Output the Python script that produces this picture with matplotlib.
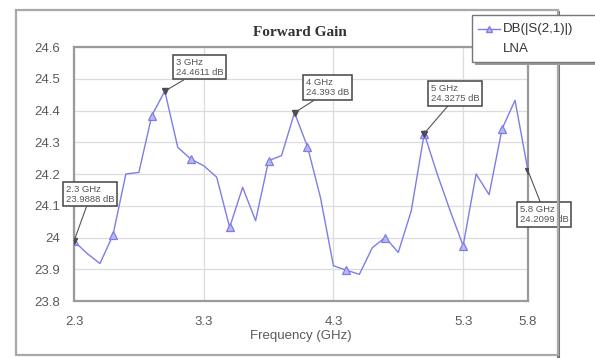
import matplotlib
matplotlib.use("Agg")
import matplotlib.pyplot as plt
from matplotlib.patches import Rectangle
from matplotlib.lines import Line2D

# Frequency sweep (GHz) and LNA forward gain |S21| in dB
freq = [2.3, 2.4, 2.5, 2.6, 2.7, 2.8, 2.9, 3.0, 3.1, 3.2, 3.3, 3.4,
        3.5, 3.6, 3.7, 3.8, 3.9, 4.0, 4.1, 4.2, 4.3, 4.4, 4.5, 4.6,
        4.7, 4.8, 4.9, 5.0, 5.1, 5.2, 5.3, 5.4, 5.5, 5.6, 5.7, 5.8]
gain = [23.9888, 23.95, 23.918, 24.007, 24.20, 24.205, 24.384, 24.4611, 24.284, 24.247, 24.226, 24.19,
        24.032, 24.158, 24.053, 24.242, 24.258, 24.393, 24.286, 24.126, 23.911, 23.897, 23.884, 23.968,
        24.0, 23.953, 24.084, 24.3275, 24.20, 24.084, 23.974, 24.20, 24.135, 24.342, 24.432, 24.2099]

x_ticks = [2.3, 3.3, 4.3, 5.3, 5.8]
y_ticks = [23.8, 23.9, 24.0, 24.1, 24.2, 24.3, 24.4, 24.5, 24.6]
y_tick_labels = ["23.8", "23.9", "24", "24.1", "24.2", "24.3", "24.4", "24.5", "24.6"]

# Marker readouts: frequency index, label text
marker_idx = [0, 7, 17, 27, 35]
marker_text = ["2.3 GHz\n23.9888 dB", "3 GHz\n24.4611 dB", "4 GHz\n24.393 dB",
               "5 GHz\n24.3275 dB", "5.8 GHz\n24.2099 dB"]

series_name = "DB(|S(2,1)|)"
series_source = "LNA"
title = "Forward Gain"
xlabel = "Frequency (GHz)"

W, H = 595, 358
LINE_COLOR = "#7d7de8"
TEXT_GRAY = "#5a5a5a"

plt.rcParams["font.family"] = ["Liberation Sans", "DejaVu Sans"]

fig = plt.figure(figsize=(W / 100, H / 100), dpi=100)
ax = fig.add_axes([74 / W, 1 - 301 / H, (528 - 74) / W, (301 - 47) / H])


def fx(px):
    return px / W


def fy(py):
    return 1 - py / H


# Outer chart frame
fig.patches.append(Rectangle((fx(16), fy(355)), (558 - 16) / W, (355 - 10) / H,
                             transform=fig.transFigure, fill=False,
                             edgecolor="#a8a8a8", linewidth=1.6, zorder=0))
fig.lines.append(Line2D([fx(558), fx(558)], [0, fy(12)], transform=fig.transFigure,
                        color="#707070", linewidth=2.2, zorder=0))

ax.plot(freq, gain, color=LINE_COLOR, linewidth=1.0, marker="^", markevery=3,
        markersize=6, markerfacecolor="#b9b9f2", markeredgecolor=LINE_COLOR,
        markeredgewidth=0.9, zorder=3)
ax.plot([freq[i] for i in marker_idx], [gain[i] for i in marker_idx], linestyle="none",
        marker="v", markersize=5, color="#4a4a5a", zorder=4)

ax.set_xlim(2.3, 5.8)
ax.set_ylim(23.8, 24.6)
ax.set_xticks(x_ticks)
ax.set_xticklabels([f"{v:g}" for v in x_ticks])
ax.set_yticks(y_ticks)
ax.set_yticklabels(y_tick_labels)
ax.tick_params(axis="both", length=0, labelsize=9.5, labelcolor=TEXT_GRAY)
ax.tick_params(axis="y", pad=10)
ax.tick_params(axis="x", pad=11)
ax.grid(True, color="#dcdcdc", linewidth=0.9)
ax.set_axisbelow(True)
for s in ax.spines.values():
    s.set_color("#9a9a9a")
    s.set_linewidth(1.6)

ax.set_xlabel(xlabel, fontsize=9.5, color=TEXT_GRAY, labelpad=1)
fig.text(fx(300), fy(33), title, ha="center", va="center",
         fontsize=11, fontweight="bold", family=["Liberation Serif", "DejaVu Serif"],
         color="#333333")

# Readout boxes: offsets (pixels) from the marked point and leader anchor on the box
box_offsets = [(16, -47), (35, -24), (33, -25), (31, -40), (16, 44)]
box_relpos = [(0.45, 0.0), (0.28, 0.0), (0.3, 0.0), (0.4, 0.0), (0.45, 1.0)]
for i, txt, (dx, dy), rp in zip(marker_idx, marker_text, box_offsets, box_relpos):
    ax.annotate(txt, xy=(freq[i], gain[i]), xytext=(dx * 0.72, -dy * 0.72),
                textcoords="offset points", ha="center", va="center",
                multialignment="left", fontsize=6.8, color="#555555", linespacing=1.15,
                bbox=dict(boxstyle="square,pad=0.3", facecolor="white",
                          edgecolor="#444444", linewidth=1.1),
                arrowprops=dict(arrowstyle="-", color="#555555", linewidth=0.8,
                                relpos=rp, shrinkA=0, shrinkB=0),
                annotation_clip=False, zorder=6)

# Legend box drawn in figure pixels
fig.patches.append(Rectangle((fx(475), fy(65)), (600 - 475) / W, (65 - 18) / H,
                             transform=fig.transFigure, facecolor="#9a9a9a",
                             edgecolor="none", zorder=7))
fig.patches.append(Rectangle((fx(472), fy(62)), (600 - 472) / W, (62 - 15) / H,
                             transform=fig.transFigure, facecolor="white",
                             edgecolor="#777777", linewidth=1.0, zorder=8))
fig.lines.append(Line2D([fx(478), fx(500)], [fy(29), fy(29)], transform=fig.transFigure,
                        color=LINE_COLOR, linewidth=1.0, zorder=9))
fig.lines.append(Line2D([fx(489)], [fy(29)], transform=fig.transFigure, linestyle="none",
                        marker="^", markersize=4.5, markerfacecolor="#b9b9f2",
                        markeredgecolor=LINE_COLOR, zorder=9))
fig.text(fx(503), fy(29), series_name, ha="left", va="center", fontsize=9.5,
         color="#333333", zorder=9)
fig.text(fx(503), fy(49), series_source, ha="left", va="center", fontsize=9.5,
         color="#333333", zorder=9)

fig.savefig("out.png", dpi=100)
